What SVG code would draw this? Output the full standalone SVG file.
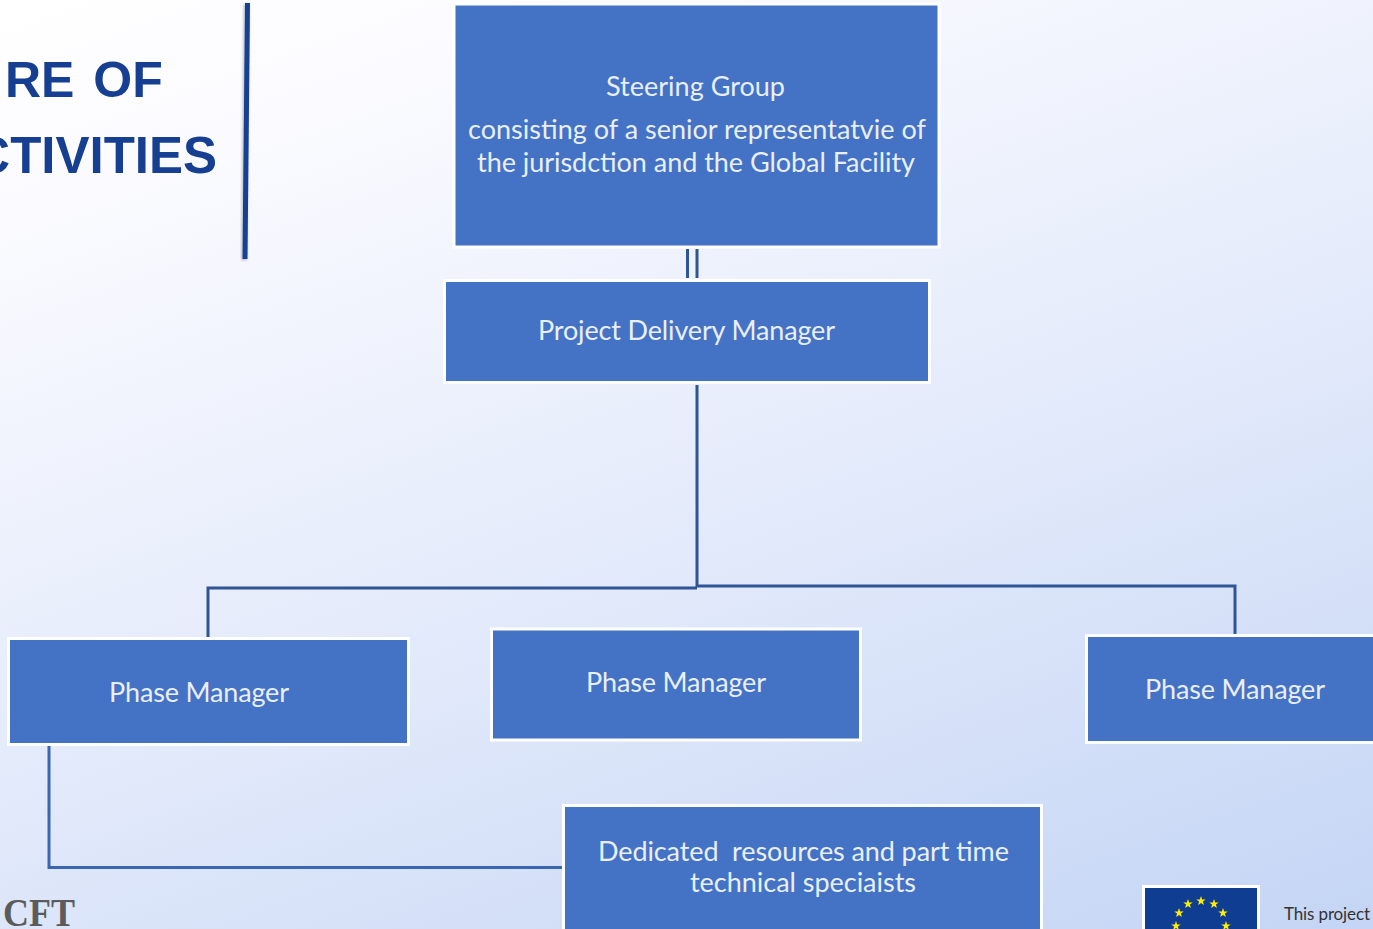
<svg xmlns="http://www.w3.org/2000/svg" width="1373" height="929" viewBox="0 0 1373 929">
<style>
.box{fill:#4472c4;stroke:#fff;stroke-width:3}
.t{font-family:Lato,"Open Sans",sans-serif;font-size:27px;fill:#e9effa;text-anchor:middle}
.c{fill:none;stroke:#2f5597;stroke-width:3}
.c2{fill:none;stroke:#3a66b3;stroke-width:3}
.h{font-family:"Liberation Sans",Arial,sans-serif;font-weight:700;fill:#163f92}
</style>
<defs>
<linearGradient id="bg" gradientUnits="userSpaceOnUse" x1="0" y1="0" x2="453" y2="1260">
<stop offset="0" stop-color="#ffffff"/><stop offset="0.15" stop-color="#fbfbff"/><stop offset="0.6" stop-color="#e0e8fa"/><stop offset="1" stop-color="#c4d5f5"/>
</linearGradient>
<polygon id="s" points="0,-5 1.2,-1.6 4.8,-1.5 1.9,0.6 2.9,4 0,2 -2.9,4 -1.9,0.6 -4.8,-1.5 -1.2,-1.6" fill="#ffed00"/>
<filter id="sh" x="-200%" y="-2%" width="500%" height="104%"><feDropShadow dx="-1" dy="1" stdDeviation="1.5" flood-color="#000" flood-opacity=".3"/></filter>
</defs>
<rect width="1373" height="929" fill="url(#bg)"/>
<g id="title">
<text class="h" x="5" y="97" font-size="50" word-spacing="5">RE OF</text>
<text class="h" x="217" y="173" font-size="51" text-anchor="end">CTIVITIES</text>
<line x1="247.500" y1="3" x2="245" y2="259" stroke="#163f92" stroke-width="5" filter="url(#sh)"/>
</g>
<g id="connectors">
<path class="c" d="M687.500 249V278M697 249V278"/>
<path class="c" d="M697 385V587M697 588H208V637M697 586H1235V634"/>
<path class="c2" d="M49 746V867.500H562"/>
</g>
<g id="steering-group">
<rect class="box" x="454" y="4" width="485" height="243"/>
<text class="t" x="695.500" y="96" textLength="179">Steering Group</text>
<text class="t" x="697" y="139" textLength="458">consisting of a senior representatvie of</text>
<text class="t" x="696" y="172" textLength="438">the jurisdction and the Global Facility</text>
</g>
<g id="project-delivery-manager">
<rect class="box" x="444.500" y="280.500" width="485" height="102"/>
<text class="t" x="686.500" y="340" textLength="297">Project Delivery Manager</text>
</g>
<g id="phase-manager-1">
<rect class="box" x="8.500" y="638.500" width="400" height="106"/>
<text class="t" x="199" y="702" textLength="180">Phase Manager</text>
</g>
<g id="phase-manager-2">
<rect class="box" x="491.500" y="629" width="369" height="111"/>
<text class="t" x="676" y="692" textLength="180">Phase Manager</text>
</g>
<g id="phase-manager-3">
<rect class="box" x="1086.500" y="635.500" width="300" height="107"/>
<text class="t" x="1235" y="699" textLength="180">Phase Manager</text>
</g>
<g id="dedicated-resources">
<rect class="box" x="563.500" y="805.500" width="478" height="140"/>
<text class="t" x="803.500" y="861" textLength="411" xml:space="preserve">Dedicated  resources and part time</text>
<text class="t" x="803" y="892" textLength="226">technical speciaists</text>
</g>
<g id="footer">
<text x="3" y="926" font-family="Liberation Serif,serif" font-weight="700" font-size="41" textLength="72" lengthAdjust="spacingAndGlyphs" fill="#5b5b5b">CFT</text>
<rect x="1143.500" y="886.500" width="115" height="60" fill="#0f3d91" stroke="#fff" stroke-width="3"/>
<use href="#s" x="1201" y="901"/><use href="#s" x="1188" y="904"/><use href="#s" x="1214" y="904"/><use href="#s" x="1179" y="913"/><use href="#s" x="1223" y="913"/><use href="#s" x="1176" y="926"/><use href="#s" x="1226" y="926"/>
<text x="1284" y="920" font-family="Lato,Open Sans,sans-serif" font-size="17" textLength="86" fill="#333">This project</text>
</g>
</svg>
